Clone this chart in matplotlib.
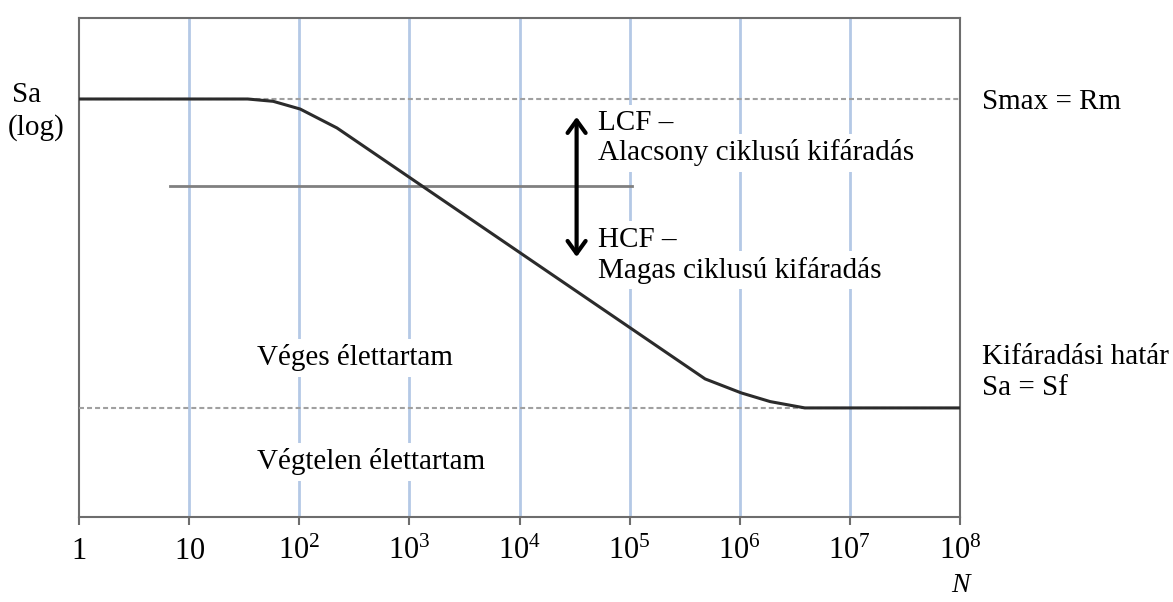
import matplotlib
matplotlib.use("Agg")
import matplotlib.pyplot as plt
from matplotlib.ticker import FixedLocator, FixedFormatter, NullLocator

plt.rcParams['font.family'] = ['Liberation Serif', 'DejaVu Serif']
plt.rcParams['mathtext.fontset'] = 'custom'
plt.rcParams['mathtext.rm'] = 'Liberation Serif'
plt.rcParams['mathtext.it'] = 'Liberation Serif:italic'

# Wöhler curve (S-N), log-log
curve_N = [1, 34, 58, 102, 220, 4.85e5, 1.03e6, 1.89e6, 3.9e6, 1e8]
curve_S = [1000, 1000, 988, 949, 860, 232.6, 216.3, 206.7, 200, 200]

S_max = 1000   # Smax = Rm
S_f = 200      # fatigue limit
S_mid = 636    # LCF / HCF boundary
mid_N = [6.7, 1.05e5]
arrow_N = 3.3e4
arrow_S = [911, 439]

decades = [1, 10, 1e2, 1e3, 1e4, 1e5, 1e6, 1e7, 1e8]
tick_labels = ['$1$', '$10$', '$10^{2}$', '$10^{3}$', '$10^{4}$',
               '$10^{5}$', '$10^{6}$', '$10^{7}$', '$10^{8}$']

fig = plt.figure(figsize=(11.73, 6.02), dpi=100)
ax = fig.add_axes([79 / 1173, 85 / 602, 881 / 1173, 499 / 602])
ax.set_xscale('log')
ax.set_yscale('log')
ax.set_xlim(1, 1e8)
ax.set_ylim(113.3, 1525)

for n in decades[1:-1]:
    ax.axvline(n, color='#b4c9e6', lw=2, zorder=0)

ax.plot([1, 1e8], [S_max, S_max], color='#a0a0a0', lw=1.5, dashes=[2.4, 1.45], zorder=4)
ax.plot([1, 1e8], [S_f, S_f], color='#a0a0a0', lw=1.5, dashes=[2.4, 1.45], zorder=4)
ax.plot(mid_N, [S_mid, S_mid], color='#808080', lw=2, zorder=4)
ax.plot(curve_N, curve_S, color='#2b2b2b', lw=2.2, zorder=5,
        solid_joinstyle='round', solid_capstyle='butt')

ax.annotate('', xy=(arrow_N, arrow_S[0]), xytext=(arrow_N, arrow_S[1]),
            arrowprops=dict(arrowstyle='<->,head_length=0.9,head_width=0.65',
                            color='black', lw=3, shrinkA=0, shrinkB=0),
            zorder=6)

box = dict(facecolor='white', edgecolor='none', pad=4)
fs = 21
ax.text(5.2e4, 882, 'LCF –', fontsize=fs, va='center', bbox=box, zorder=3)
ax.text(5.2e4, 755, 'Alacsony ciklusú kifáradás', fontsize=fs, va='center', bbox=box, zorder=3)
ax.text(5.2e4, 480, 'HCF –', fontsize=fs, va='center', bbox=box, zorder=3)
ax.text(5.2e4, 410, 'Magas ciklusú kifáradás', fontsize=fs, va='center', bbox=box, zorder=3)
ax.text(41, 259.5, 'Véges élettartam', fontsize=fs, va='center', bbox=box, zorder=3)
ax.text(41, 151, 'Végtelen élettartam', fontsize=fs, va='center', bbox=box, zorder=3)

# labels outside the frame on the right
ax.text(1.6e8, 984, 'Smax = Rm', fontsize=fs, va='center', clip_on=False)
ax.text(1.6e8, 261, 'Kifáradási határ', fontsize=fs, va='center', clip_on=False)
ax.text(1.6e8, 222, 'Sa = Sf', fontsize=fs, va='center', clip_on=False)

fig.text(12 / 1173, 1 - 95 / 602, 'Sa', fontsize=fs, va='center')
fig.text(8 / 1173, 1 - 128 / 602, '(log)', fontsize=fs, va='center')
fig.text(960 / 1173, 1 - 586 / 602, 'N', fontsize=20, style='italic', ha='center', va='center')

ax.xaxis.set_major_locator(FixedLocator(decades))
ax.xaxis.set_major_formatter(FixedFormatter(tick_labels))
ax.xaxis.set_minor_locator(NullLocator())
ax.yaxis.set_major_locator(NullLocator())
ax.yaxis.set_minor_locator(NullLocator())
ax.tick_params(axis='x', which='major', direction='out', length=6, width=1.5,
               color='#6d6d6d', labelsize=22, pad=24)
for lab in ax.get_xticklabels():
    lab.set_va('baseline')

for sp in ax.spines.values():
    sp.set_color('#6d6d6d')
    sp.set_linewidth(1.5)

fig.savefig('out.png', dpi=100, facecolor='white')
